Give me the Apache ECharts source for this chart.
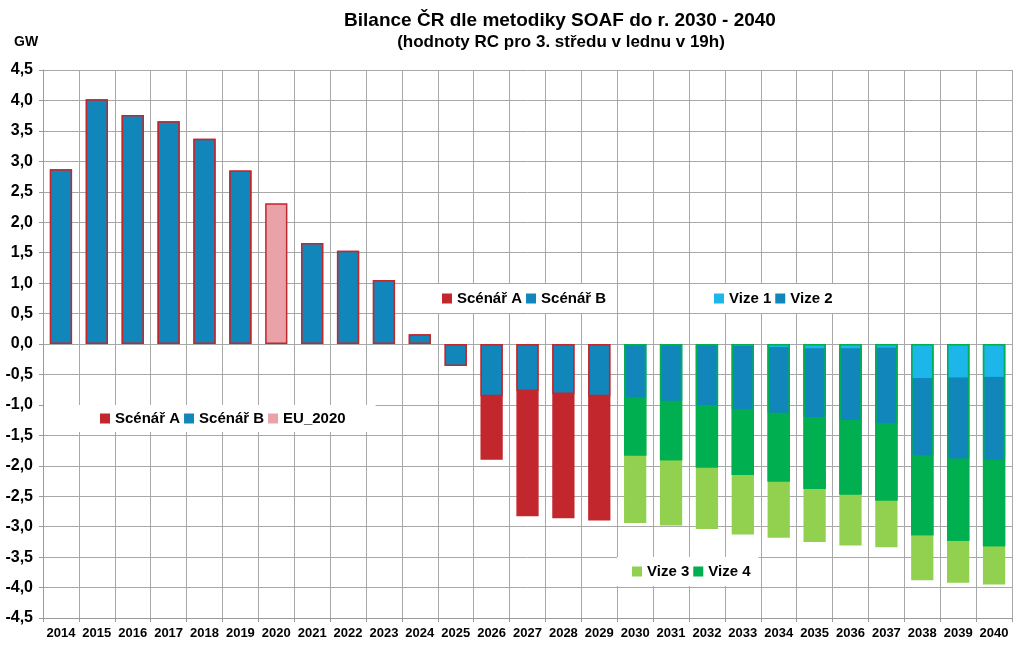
<!DOCTYPE html>
<html>
<head>
<meta charset="utf-8">
<script src="https://cdn.jsdelivr.net/npm/echarts@6/dist/echarts.min.js"></script>
<style>html,body{margin:0;padding:0;background:#fff}#c{width:1024px;height:656px}</style>
</head>
<body>
<div id="c"></div>
<script>
const years = ['2014','2015','2016','2017','2018','2019','2020','2021','2022','2023','2024','2025','2026','2027','2028','2029','2030','2031','2032','2033','2034','2035','2036','2037','2038','2039','2040'];
const yTicks = {min: -4.5, max: 4.5, step: 0.5};
const N = null;
// totals (GW) for each year
const scenarA = [2.87,4.02,3.76,3.66,3.37,2.85,N,1.66,1.53,1.05,0.16,-0.36,-1.90,-2.83,-2.86,-2.90,N,N,N,N,N,N,N,N,N,N,N];
const scenarB = [2.87,4.02,3.76,3.66,3.37,2.85,N,1.66,1.53,1.05,0.16,-0.36,-0.86,-0.77,-0.82,-0.86,N,N,N,N,N,N,N,N,N,N,N];
const eu2020  = [N,N,N,N,N,N,2.31,N,N,N,N,N,N,N,N,N,N,N,N,N,N,N,N,N,N,N,N];
const pre = [N,N,N,N,N,N,N,N,N,N,N,N,N,N,N,N];
const vize1 = pre.concat([0,0,0,-0.03,-0.05,-0.07,-0.07,-0.06,-0.56,-0.55,-0.54]);
const vize2 = pre.concat([-0.88,-0.93,-1.00,-1.07,-1.13,-1.20,-1.25,-1.30,-1.83,-1.88,-1.90]);
const vize4 = pre.concat([-1.83,-1.91,-2.03,-2.15,-2.26,-2.38,-2.47,-2.57,-3.14,-3.23,-3.32]);
const vize3 = pre.concat([-2.94,-2.98,-3.04,-3.13,-3.18,-3.25,-3.31,-3.34,-3.88,-3.92,-3.95]);

const RED='#C1272D', BLUE='#1086BA', PINK='#E9A3A8', LBLUE='#1CB6EB', GREEN='#00B050', LGREEN='#92D050';
const FONT='Liberation Sans, Arial, sans-serif';

function bar(name, data, color, extra){
  return Object.assign({
    name, type:'bar', data, barGap:'-100%', barCategoryGap:'38%',
    itemStyle:{color}, emphasis:{disabled:true}, animation:false
  }, extra||{});
}
const legendBase = {
  orient:'horizontal', itemWidth:10, itemHeight:10, itemGap:4, icon:'rect',
  backgroundColor:'#fff', selectedMode:false,
  itemStyle:{borderWidth:0},
  textStyle:{fontFamily:FONT, fontWeight:'bold', fontSize:15, color:'#000'}
};

const chart = echarts.init(document.getElementById('c'), null, {renderer:'canvas'});
chart.setOption({
  animation:false,
  backgroundColor:'#fff',
  title:[
    {text:'Bilance ČR dle metodiky SOAF do r. 2030 - 2040', left:555, top:6, textAlign:'center',
     textStyle:{fontFamily:FONT, fontWeight:'bold', fontSize:19, color:'#000'}},
    {text:'(hodnoty RC pro 3. středu v lednu v 19h)', left:556, top:29, textAlign:'center',
     textStyle:{fontFamily:FONT, fontWeight:'bold', fontSize:17, color:'#000'}},
    {text:'GW', left:9, top:30,
     textStyle:{fontFamily:FONT, fontWeight:'bold', fontSize:14, color:'#000'}}
  ],
  legend:[
    Object.assign({}, legendBase, {data:['Scénář A','Scénář B','EU_2020'], left:44, top:405, padding:[6,30,6,56]}),
    Object.assign({}, legendBase, {data:['Scénář A','Scénář B'], left:437, top:284, padding:[7,8,7,5]}),
    Object.assign({}, legendBase, {data:['Vize 1','Vize 2'], left:702, top:284, padding:[7,6,7,12]}),
    Object.assign({}, legendBase, {data:['Vize 3','Vize 4'], left:617, top:557, padding:[7,8,7,15]})
  ],
  grid:{left:43, right:12, top:70, bottom:38, containLabel:false},
  xAxis:{
    type:'category', data:years, boundaryGap:true,
    axisLine:{show:true, onZero:false, lineStyle:{color:'#9A9A9A', width:1}},
    axisTick:{show:true, length:4, lineStyle:{color:'#9A9A9A'}},
    splitLine:{show:true, lineStyle:{color:'#A8A8A8', width:1}},
    axisLabel:{fontFamily:FONT, fontWeight:'bold', fontSize:13, color:'#000', margin:9, interval:0}
  },
  yAxis:{
    type:'value', min:yTicks.min, max:yTicks.max, interval:yTicks.step,
    axisLine:{show:true, lineStyle:{color:'#9A9A9A'}},
    axisTick:{show:true, length:4, lineStyle:{color:'#9A9A9A'}},
    splitLine:{show:true, lineStyle:{color:'#A8A8A8', width:1}},
    axisLabel:{fontFamily:FONT, fontWeight:'bold', fontSize:16, color:'#000', margin:10,
      formatter:v=>v.toFixed(1).replace('.', ',')}
  },
  series:[
    bar('Scénář A', scenarA, RED, {itemStyle:{color:RED, borderColor:RED, borderWidth:1.5}}),
    bar('Scénář B', scenarB, BLUE, {itemStyle:{color:BLUE, borderColor:RED, borderWidth:1.5}}),
    bar('EU_2020', eu2020, PINK, {itemStyle:{color:PINK, borderColor:RED, borderWidth:1.5}}),
    bar('Vize 3', vize3, LGREEN),
    bar('Vize 4', vize4, GREEN),
    bar('Vize 2', vize2, BLUE),
    bar('Vize 1', vize1, LBLUE),
    bar('obrys', vize4, 'rgba(0,0,0,0)', {silent:true, itemStyle:{color:'rgba(0,0,0,0)', borderColor:GREEN, borderWidth:1.5}})
  ]
});
</script>
</body>
</html>
